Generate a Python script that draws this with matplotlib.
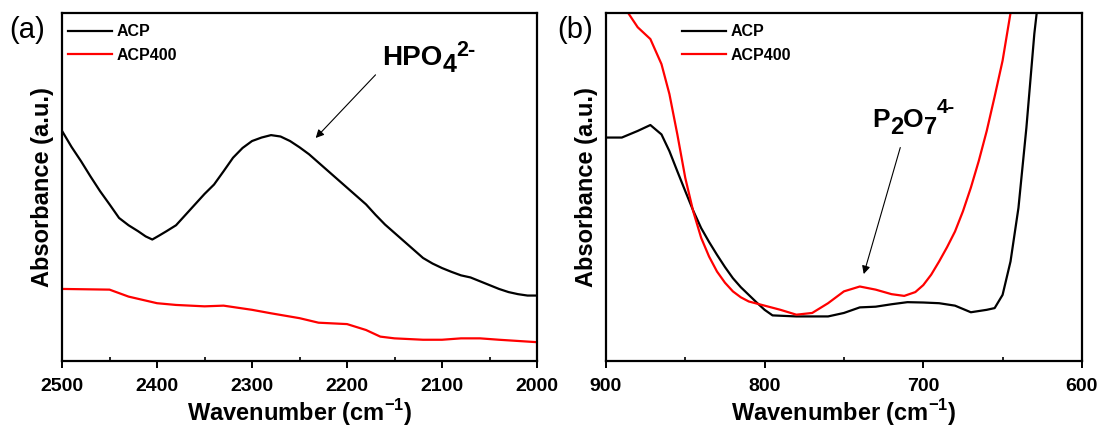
import matplotlib
matplotlib.use("Agg")
import matplotlib.pyplot as plt
from matplotlib.ticker import MultipleLocator
from matplotlib.transforms import offset_copy

plt.rcParams['font.family'] = ['Liberation Sans', 'DejaVu Sans']
plt.rcParams['font.weight'] = 'bold'
plt.rcParams['mathtext.fontset'] = 'custom'
plt.rcParams['mathtext.rm'] = 'Liberation Sans:bold'
plt.rcParams['mathtext.bf'] = 'Liberation Sans:bold'

# (a) 2500-2000 cm-1 region
wn_a_acp = [2500, 2490, 2480, 2470, 2460, 2450, 2440, 2430, 2420, 2412, 2405, 2398,
            2390, 2380, 2370, 2360, 2350, 2340, 2330, 2320, 2310, 2300, 2290, 2280,
            2270, 2260, 2250, 2240, 2230, 2220, 2210, 2200, 2190, 2180, 2170, 2160,
            2150, 2140, 2130, 2120, 2110, 2100, 2090, 2080, 2070, 2060, 2050, 2040,
            2030, 2020, 2010, 2000]
abs_a_acp = [0.661, 0.615, 0.574, 0.530, 0.488, 0.450, 0.411, 0.390, 0.373, 0.358,
             0.349, 0.360, 0.373, 0.390, 0.420, 0.450, 0.480, 0.507, 0.545, 0.584,
             0.612, 0.632, 0.642, 0.649, 0.645, 0.632, 0.614, 0.594, 0.570, 0.546,
             0.522, 0.498, 0.474, 0.450, 0.420, 0.392, 0.368, 0.344, 0.320, 0.296,
             0.280, 0.267, 0.256, 0.246, 0.240, 0.229, 0.218, 0.207, 0.198, 0.192,
             0.188, 0.188]

wn_a_400 = [2500, 2450, 2430, 2400, 2380, 2350, 2330, 2300, 2280, 2250, 2230, 2200,
            2180, 2165, 2150, 2120, 2100, 2080, 2060, 2040, 2000]
abs_a_400 = [0.207, 0.205, 0.185, 0.166, 0.161, 0.157, 0.159, 0.147, 0.137, 0.123,
             0.110, 0.106, 0.089, 0.070, 0.065, 0.061, 0.061, 0.065, 0.065, 0.061,
             0.054]

# (b) 900-600 cm-1 region
wn_b_acp = [900, 890, 880, 872, 865, 860, 855, 850, 845, 840, 835, 830, 825, 820,
            815, 810, 805, 800, 795, 780, 760, 750, 740, 730, 720, 710, 700, 690,
            680, 670, 660, 655, 650, 645, 640, 635, 630, 626]
abs_b_acp = [0.642, 0.642, 0.661, 0.678, 0.651, 0.603, 0.545, 0.488, 0.432, 0.382,
             0.342, 0.305, 0.270, 0.238, 0.212, 0.190, 0.168, 0.147, 0.131, 0.128,
             0.128, 0.138, 0.154, 0.156, 0.163, 0.169, 0.168, 0.166, 0.159, 0.140,
             0.147, 0.152, 0.190, 0.286, 0.440, 0.670, 0.940, 1.100]

wn_b_400 = [892, 886, 880, 872, 865, 860, 855, 850, 845, 840, 835, 830, 825, 820,
            815, 810, 800, 790, 780, 770, 760, 750, 740, 730, 720, 712, 705, 700,
            695, 690, 685, 680, 675, 670, 665, 660, 655, 650, 645, 642]
abs_b_400 = [1.100, 1.000, 0.959, 0.925, 0.853, 0.767, 0.651, 0.526, 0.430, 0.354,
             0.300, 0.257, 0.225, 0.200, 0.183, 0.171, 0.159, 0.147, 0.133, 0.138,
             0.166, 0.200, 0.214, 0.205, 0.192, 0.187, 0.198, 0.218, 0.248, 0.286,
             0.327, 0.372, 0.430, 0.498, 0.575, 0.661, 0.760, 0.863, 1.000, 1.100]

fig = plt.figure(figsize=(11.1, 4.32), dpi=100)
ax1 = fig.add_axes([0.0559, 0.1644, 0.4279, 0.8056])
ax2 = fig.add_axes([0.5459, 0.1644, 0.4288, 0.8056])


def style(ax, lo, hi):
    ax.set_xlim(lo, hi)
    ax.set_ylim(0, 1)
    ax.xaxis.set_major_locator(MultipleLocator(100))
    ax.xaxis.set_minor_locator(MultipleLocator(50))
    ax.tick_params(axis='x', which='major', direction='out', length=5, width=1.4,
                   labelsize=14, pad=7)
    ax.tick_params(axis='x', which='minor', direction='in', length=3, width=1.2)
    ax.set_yticks([])
    for s in ax.spines.values():
        s.set_linewidth(1.6)
    for lab in ax.get_xticklabels():
        lab.set_fontweight('bold')
    ax.set_xlabel('Wavenumber (cm$^{-1}$)', fontsize=17, fontweight='bold', labelpad=2)
    ax.set_ylabel('Absorbance (a.u.)', fontsize=17, fontweight='bold', labelpad=6)


def chem(ax, x, y, parts, size):
    # write a formula piece by piece: (text, vertical shift in pt, relative size)
    renderer = fig.canvas.get_renderer()
    dx = 0.0
    for s, dy, rel in parts:
        tr = offset_copy(ax.transData, fig=fig, x=dx, y=dy, units='points')
        t = ax.text(x, y, s, transform=tr, fontsize=size * rel, fontweight='bold',
                    ha='left', va='baseline')
        dx += t.get_window_extent(renderer).width * 72.0 / fig.dpi


def add_legend(ax, x0):
    ax.legend(loc='upper left', bbox_to_anchor=(x0, 1.0), frameon=False,
              prop={'weight': 'bold', 'size': 11.5}, handlelength=2.75,
              handletextpad=0.25, labelspacing=0.55, borderpad=0.7,
              borderaxespad=0.0)


ax1.plot(wn_a_acp, abs_a_acp, color='black', lw=1.6, label='ACP')
ax1.plot(wn_a_400, abs_a_400, color='red', lw=1.6, label='ACP400')
style(ax1, 2500, 2000)
add_legend(ax1, -0.01)
ax1.annotate('', xy=(2235, 0.635), xytext=(2168, 0.828),
             arrowprops=dict(arrowstyle='-|>', color='black', lw=0.8,
                             mutation_scale=12))
chem(ax1, 2163, 0.851, [('HPO', 0, 1.0), ('4', -5, 0.9), ('2-', 6, 0.78)], 20)

ax2.plot(wn_b_acp, abs_b_acp, color='black', lw=1.6, label='ACP')
ax2.plot(wn_b_400, abs_b_400, color='red', lw=1.6, label='ACP400')
style(ax2, 900, 600)
add_legend(ax2, 0.137)
ax2.annotate('', xy=(738, 0.242), xytext=(714, 0.621),
             arrowprops=dict(arrowstyle='-|>', color='black', lw=0.8,
                             mutation_scale=12))
chem(ax2, 732, 0.672, [('P', 0, 1.0), ('2', -5, 0.9), ('O', 0, 1.0), ('7', -5, 0.9),
                       ('4-', 10, 0.78)], 19)

fig.text(0.008, 0.962, '(a)', fontsize=21, va='top', ha='left', fontweight='normal')
fig.text(0.502, 0.962, '(b)', fontsize=21, va='top', ha='left', fontweight='normal')

fig.savefig('out.png', dpi=100)
